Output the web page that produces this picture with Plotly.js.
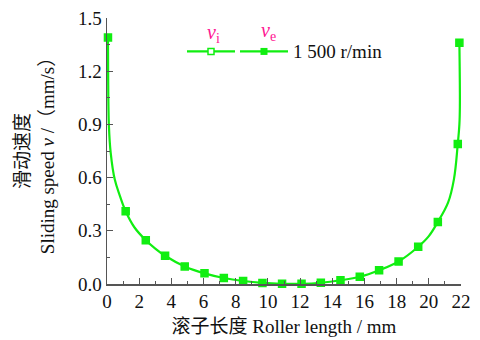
<!DOCTYPE html>
<html>
<head>
<meta charset="utf-8">
<script src="https://cdn.plot.ly/plotly-3.0.1.min.js"></script>
<style>html,body{margin:0;padding:0;background:#fff;}#chart{width:480px;height:340px;}</style>
</head>
<body>
<div id="chart"></div>
<script>
// Marker positions (roller length mm, sliding speed mm/s)
const markerX = [0.06, 1.16, 2.41, 3.61, 4.83, 6.06, 7.26, 8.46, 9.66, 10.88, 12.09, 13.29, 14.51, 15.71, 16.91, 18.12, 19.34, 20.56, 21.8, 21.9];
const veY     = [1.39, 0.41, 0.247, 0.159, 0.099, 0.060, 0.034, 0.017, 0.006, 0.001, 0.001, 0.007, 0.021, 0.041, 0.078, 0.127, 0.21, 0.35, 0.79, 1.36];
const viY     = [1.39, 0.41, 0.247, 0.159, 0.099, 0.060, 0.034, 0.017, 0.006, 0.001, 0.001, 0.007, 0.021, 0.041, 0.078, 0.127, 0.21, 0.35, 0.79, 1.36];
// Curve points
const curveX = [0.06, 0.07, 0.12, 0.23, 0.48, 0.79, 1.16, 1.7, 2.41, 3.0, 3.61, 4.83, 6.06, 7.26, 8.46, 9.66, 10.88, 12.09, 13.29, 14.51, 15.71, 16.91, 18.12, 19.34, 20.0, 20.56, 21.2, 21.56, 21.8, 21.9, 21.93, 21.9];
const curveY = [1.39, 1.19, 0.89, 0.74, 0.59, 0.50, 0.41, 0.32, 0.247, 0.20, 0.159, 0.099, 0.060, 0.034, 0.017, 0.006, 0.001, 0.001, 0.007, 0.021, 0.041, 0.078, 0.127, 0.21, 0.27, 0.35, 0.46, 0.59, 0.79, 0.9, 1.0, 1.36];
const xTicks = [0, 2, 4, 6, 8, 10, 12, 14, 16, 18, 20, 22];
const yTicks = [0.0, 0.3, 0.6, 0.9, 1.2, 1.5];
const seriesNames = ['v<sub>i</sub>', 'v<sub>e</sub>'];
const legendNote = '1 500 r/min';

const GREEN = '#11ee11';
const PINK = '#ff1493';
const FONT = "'Times New Roman', 'Liberation Serif', 'DejaVu Serif', 'Noto Sans CJK SC', serif";

const traces = [
  {x: curveX, y: curveY, mode: 'lines', line: {color: GREEN, width: 2.2, shape: 'spline', smoothing: 1.1}, showlegend: false, hoverinfo: 'skip', cliponaxis: false},
  {x: markerX, y: viY, mode: 'markers', name: seriesNames[0], marker: {symbol: 'square-open', size: 7, color: GREEN, line: {width: 1.5}}, showlegend: false, cliponaxis: false},
  {x: markerX, y: veY, mode: 'markers', name: seriesNames[1], marker: {symbol: 'square', size: 7, color: GREEN}, showlegend: false, cliponaxis: false}
];

function px(xp){ return (xp - 107) / 354; }
function py(yp){ return (284.5 - yp) / 266.5; }

const legY = py(51.5);
const shapes = [
  {type: 'line', xref: 'paper', yref: 'paper', x0: px(187), x1: px(235), y0: legY, y1: legY, line: {color: GREEN, width: 2.2}},
  {type: 'line', xref: 'paper', yref: 'paper', x0: px(240), x1: px(288), y0: legY, y1: legY, line: {color: GREEN, width: 2.2}},
  {type: 'rect', xref: 'paper', yref: 'paper', xsizemode: 'pixel', ysizemode: 'pixel', xanchor: px(211), yanchor: legY, x0: -3, x1: 3, y0: -3, y1: 3, fillcolor: '#ffffff', line: {color: GREEN, width: 1.5}},
  {type: 'rect', xref: 'paper', yref: 'paper', xsizemode: 'pixel', ysizemode: 'pixel', xanchor: px(264), yanchor: legY, x0: -3.5, x1: 3.5, y0: -3.5, y1: 3.5, fillcolor: GREEN, line: {color: GREEN, width: 0}}
];

const annotations = [
  {xref: 'paper', yref: 'paper', x: px(213), y: py(34), text: '<i>v</i><sub>i</sub>', showarrow: false, font: {family: FONT, size: 20, color: PINK}, xanchor: 'center', yanchor: 'middle'},
  {xref: 'paper', yref: 'paper', x: px(268), y: py(32), text: '<i>v</i><sub>e</sub>', showarrow: false, font: {family: FONT, size: 20, color: PINK}, xanchor: 'center', yanchor: 'middle'},
  {xref: 'paper', yref: 'paper', x: px(291), y: legY, text: legendNote, showarrow: false, font: {family: FONT, size: 19, color: '#111'}, xanchor: 'left', yanchor: 'middle'}
];

const axisCommon = {
  showgrid: false, zeroline: false, showline: true, linecolor: '#555', linewidth: 1.5,
  ticks: 'inside', ticklen: 6, tickwidth: 1, tickcolor: '#555',
  tickfont: {family: FONT, size: 19, color: '#111'}
};

const layout = {
  width: 480, height: 340,
  margin: {l: 107, r: 19, t: 18, b: 55.5, pad: 0},
  paper_bgcolor: '#fff', plot_bgcolor: '#fff',
  showlegend: false,
  font: {family: FONT},
  xaxis: Object.assign({}, axisCommon, {
    range: [0, 22], tickvals: xTicks, ticktext: xTicks.map(String),
    minor: {dtick: 1, ticks: 'inside', ticklen: 3, tickcolor: '#555'},
    title: {text: '滚子长度 Roller length / mm', font: {family: FONT, size: 19, color: '#111'}, standoff: 8}
  }),
  yaxis: Object.assign({}, axisCommon, {
    range: [0, 1.5], tickvals: yTicks, ticktext: yTicks.map(v => v.toFixed(1)),
    minor: {tickvals: [0.15, 0.45, 0.75, 1.05, 1.35], ticks: 'inside', ticklen: 3, tickcolor: '#555'},
    title: {text: '滑动速度<br>Sliding speed <i>v</i> /（mm/s）', font: {family: FONT, size: 19, color: '#111'}, standoff: 18}
  }),
  shapes: shapes,
  annotations: annotations
};

Plotly.newPlot('chart', traces, layout, {staticPlot: true, displayModeBar: false});
</script>
</body>
</html>
